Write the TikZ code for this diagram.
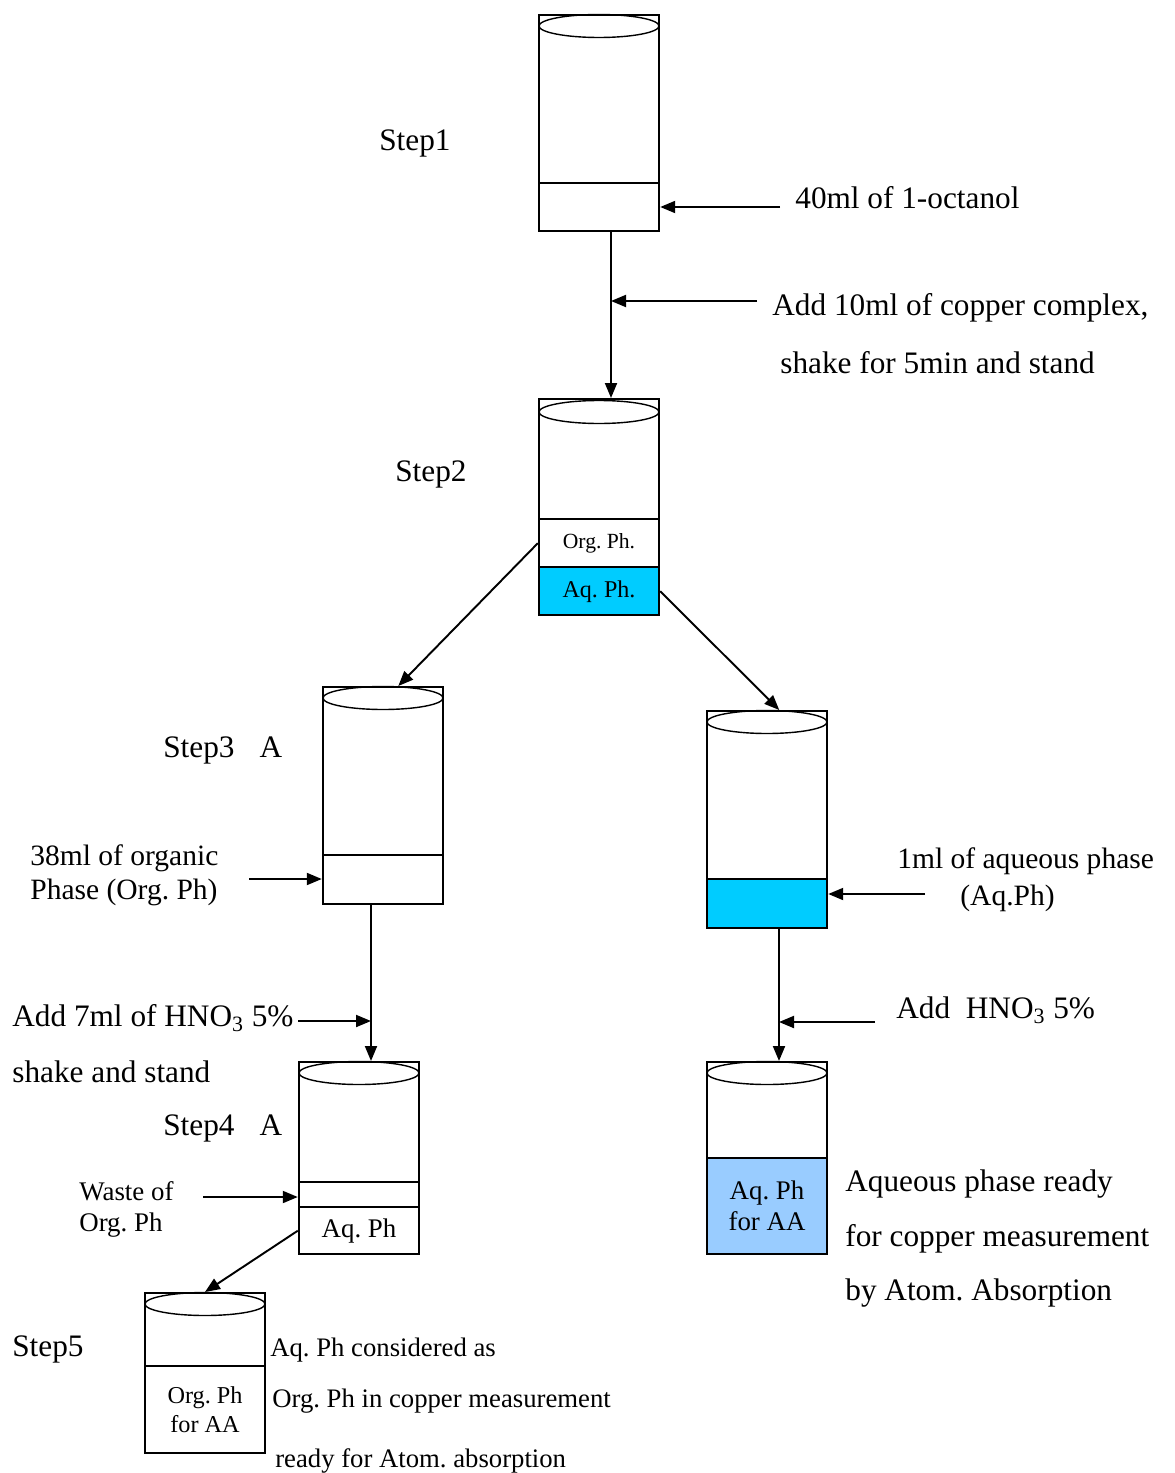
\documentclass[tikz,border=0pt]{standalone}
\usepackage{fontspec}
\setmainfont{Liberation Serif}
\usetikzlibrary{shapes.geometric, arrows.meta, positioning, calc}
\definecolor{aqcyan}{RGB}{0,204,255}
\definecolor{aqlight}{RGB}{153,204,255}
\frenchspacing
\tikzset{
    layer/.style={rectangle, draw=black, line width=1.4pt, minimum width=2.4cm, inner sep=0pt, anchor=north, align=center},
    rim/.style={ellipse, draw=black, line width=0.8pt, minimum width=2.4cm, minimum height=0.46cm, inner sep=0pt},
    txtmain/.style={anchor=west, inner sep=0pt, font=\fontsize{17.8}{21}\selectfont},
    txtmid/.style={anchor=west, inner sep=0pt, align=left, font=\fontsize{16.8}{19.3}\selectfont},
    txtsmall/.style={anchor=west, inner sep=0pt, align=left, font=\fontsize{15.3}{17.6}\selectfont},
    txtnote/.style={anchor=west, inner sep=0pt, font=\fontsize{15.2}{17}\selectfont},
    arrow/.style={line width=1.1pt, -{Triangle[length=0.3cm, width=0.24cm]}}
}
\begin{document}
\begin{tikzpicture}[x=0.02cm, y=-0.02cm]
    \useasboundingbox (0,0) rectangle (1174,1473);

    % step 1
    \node (b1up) [layer, minimum height=3.36cm] at (599,14) {};
    \node (b1low) [layer, minimum height=0.96cm] at (599,182) {};
    \node (b1rim) [rim] at (599,26) {};
    \node (s1) [txtmain] at (379,143) {Step1};
    \node (oct) [txtmain] at (795,198) {40ml of 1-octanol};
    \coordinate (c1) at (780,207);

    % step 2
    \node (b2up) [layer, minimum height=2.4cm] at (599,398) {};
    \node (b2org) [layer, minimum height=0.96cm, font=\fontsize{12.3}{14}\selectfont] at (599,518) {Org. Ph.};
    \node (b2aq) [layer, minimum height=0.96cm, fill=aqcyan, font=\fontsize{13.7}{16}\selectfont] at (599,566) {Aq. Ph.};
    \node (b2rim) [rim] at (599,412) {};
    \node (s2) [txtmain] at (395,474) {Step2};
    \node (cplx1) [txtmain] at (772,308) {Add 10ml of copper complex,};
    \node (cplx2) [txtmain] at (780,363) {shake for 5min and stand};
    \coordinate (c2) at (757,301);

    % step 3 A
    \node (b3up) [layer, minimum height=3.36cm] at (383,686) {};
    \node (b3low) [layer, minimum height=0.98cm] at (383,854) {};
    \node (b3rim) [rim] at (383,698) {};
    \node (s3) [txtmain] at (163,750) {Step3\hspace{0.8em}A};
    \node (org38) [txtmid] at (30,875) {38ml of organic\\Phase (Org. Ph)};
    \coordinate (c3) at (249,879);

    % step 3 B
    \node (r3up) [layer, minimum height=3.36cm] at (767,710) {};
    \node (r3low) [layer, minimum height=0.98cm, fill=aqcyan] at (767,878) {};
    \node (r3rim) [rim] at (767,722) {};
    \node (aq1a) [txtmid] at (897,861) {1ml of aqueous phase};
    \node (aq1b) [txtmid] at (960,898) {(Aq.Ph)};
    \coordinate (c4) at (925,894);

    % step 4 A
    \node (b4up) [layer, minimum height=2.4cm] at (359,1061) {};
    \node (b4waste) [layer, minimum height=0.5cm] at (359,1181) {};
    \node (b4aq) [layer, minimum height=0.94cm, font=\fontsize{15.3}{18}\selectfont] at (359,1206) {Aq. Ph};
    \node (b4rim) [rim] at (359,1073) {};
    \node (s4) [txtmain] at (163,1128) {Step4\hspace{0.8em}A};
    \node (hno1) [txtmain] at (12,1018) {Add 7ml of HNO\textsubscript{3} 5\%};
    \node (hno2) [txtmain] at (12,1072) {shake and stand};
    \node (waste) [txtsmall] at (79,1209) {Waste of\\Org. Ph};
    \coordinate (c5) at (298,1021);
    \coordinate (c6) at (203,1197);

    % step 4 B
    \node (r4up) [layer, minimum height=1.92cm] at (767,1061) {};
    \node (r4low) [layer, minimum height=1.92cm, fill=aqlight, font=\fontsize{15.3}{17.6}\selectfont] at (767,1157) {Aq. Ph\\for AA};
    \node (r4rim) [rim] at (767,1073) {};
    \node (hno3) [txtmain] at (896,1010) {Add\hspace{0.5em}HNO\textsubscript{3} 5\%};
    \node (ready1) [txtmain] at (845,1184) {Aqueous phase ready};
    \node (ready2) [txtmain] at (845,1239) {for copper measurement};
    \node (ready3) [txtmain] at (845,1293) {by Atom. Absorption};
    \coordinate (c7) at (875,1022);

    % step 5
    \node (b5up) [layer, minimum height=1.46cm] at (205,1292) {};
    \node (b5low) [layer, minimum height=1.74cm, font=\fontsize{13.8}{16}\selectfont] at (205,1365) {Org. Ph\\for AA};
    \node (b5rim) [rim] at (205,1304) {};
    \node (s5) [txtmain] at (12,1349) {Step5};
    \node (cons1) [txtnote] at (270,1350) {Aq. Ph considered as};
    \node (cons2) [txtnote] at (272,1401) {Org. Ph in copper measurement};
    \node (cons3) [txtnote] at (275,1461) {ready for Atom. absorption};

    % connectors
    \draw [arrow] (c1) -- (c1 -| b1low.east);
    \draw [arrow] ($(b1low.south)+(12,0)$) -- ($(b2up.north)+(12,0)$);
    \draw [arrow] (c2) -- ($(c2 -| b1low.south)+(12,0)$);
    \draw [arrow] (b2org.west) -- ($(b3up.north)!0.25!(b3up.north east)$);
    \draw [arrow] (b2aq.east) -- ($(r3up.north)!0.2!(r3up.north east)$);
    \draw [arrow] (c3) -- (c3 -| b3low.west);
    \draw [arrow] ($(b3low.south)+(-12,0)$) -- ($(b4up.north)+(12,0)$);
    \draw [arrow] (c5) -- ($(c5 -| b3low.south)+(-12,0)$);
    \draw [arrow] (c4) -- (c4 -| r3low.east);
    \draw [arrow] ($(r3low.south)+(12,0)$) -- ($(r4up.north)+(12,0)$);
    \draw [arrow] (c7) -- ($(c7 -| r3low.south)+(12,0)$);
    \draw [arrow] (c6) -- (c6 -| b4waste.west);
    \draw [arrow] (b4aq.west) -- (b5up.north);
\end{tikzpicture}
\end{document}
